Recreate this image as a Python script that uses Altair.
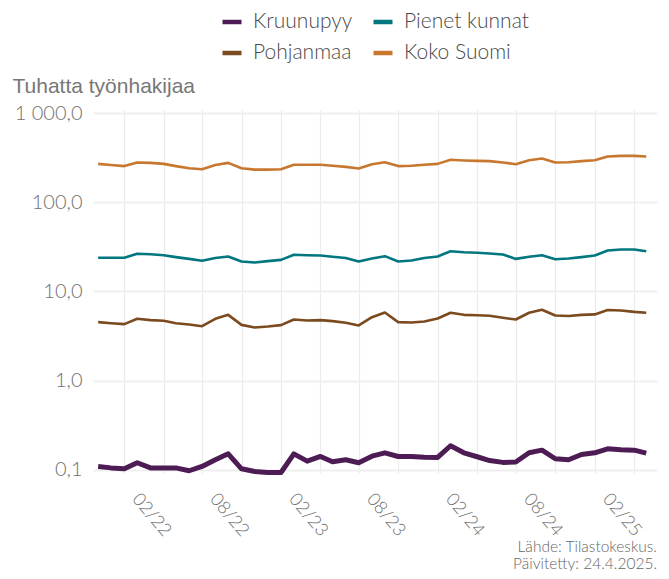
import altair as alt
import pandas as pd

MONTHS = [
    "2021-09-01", "2021-10-01", "2021-11-01", "2021-12-01",
    "2022-01-01", "2022-02-01", "2022-03-01", "2022-04-01", "2022-05-01", "2022-06-01",
    "2022-07-01", "2022-08-01", "2022-09-01", "2022-10-01", "2022-11-01", "2022-12-01",
    "2023-01-01", "2023-02-01", "2023-03-01", "2023-04-01", "2023-05-01", "2023-06-01",
    "2023-07-01", "2023-08-01", "2023-09-01", "2023-10-01", "2023-11-01", "2023-12-01",
    "2024-01-01", "2024-02-01", "2024-03-01", "2024-04-01", "2024-05-01", "2024-06-01",
    "2024-07-01", "2024-08-01", "2024-09-01", "2024-10-01", "2024-11-01", "2024-12-01",
    "2025-01-01", "2025-02-01", "2025-03-01",
]

SERIES = ["Kruunupyy", "Pienet kunnat", "Pohjanmaa", "Koko Suomi"]
COLORS = ["#4e1c55", "#00767f", "#7b4a1f", "#c8772f"]

KRUUNUPYY = [0.109, 0.105, 0.1025, 0.120, 0.105, 0.105, 0.105, 0.0975, 0.109, 0.1295,
             0.151, 0.1025, 0.0957, 0.0933, 0.0933, 0.151, 0.125, 0.141, 0.123, 0.1295,
             0.120, 0.142, 0.155, 0.141, 0.141, 0.138, 0.1375, 0.186, 0.155, 0.140,
             0.127, 0.121, 0.122, 0.155, 0.166, 0.133, 0.1295, 0.1486, 0.155, 0.172,
             0.1675, 0.166, 0.1535]
PIENET_KUNNAT = [23.9, 23.9, 23.9, 26.5, 26.2, 25.5, 24.3, 23.2, 22.1, 23.7,
                 24.7, 21.7, 21.1, 21.9, 22.6, 25.8, 25.5, 25.3, 24.5, 23.7,
                 21.7, 23.4, 24.9, 21.7, 22.3, 23.7, 24.7, 28.3, 27.6, 27.2,
                 26.7, 26.0, 23.2, 24.5, 25.5, 23.0, 23.4, 24.3, 25.3, 28.8,
                 29.6, 29.6, 28.3]
POHJANMAA = [4.53, 4.41, 4.30, 4.94, 4.77, 4.69, 4.41, 4.26, 4.08, 4.94,
             5.47, 4.22, 3.95, 4.05, 4.19, 4.85, 4.73, 4.77, 4.65, 4.46,
             4.16, 5.15, 5.81, 4.53, 4.49, 4.61, 4.98, 5.77, 5.47, 5.42,
             5.34, 5.07, 4.85, 5.77, 6.24, 5.38, 5.30, 5.47, 5.53, 6.19,
             6.12, 5.91, 5.77]
KOKO_SUOMI = [270, 262, 255, 280, 277, 270, 255, 241, 235, 262,
              277, 241, 233, 233, 235, 264, 264, 264, 257, 250,
              240, 268, 282, 255, 257, 264, 270, 300, 295, 292,
              290, 280, 268, 297, 310, 280, 282, 290, 297, 327,
              332, 332, 327]

X_GRID = [(2021, 11), (2022, 2), (2022, 5), (2022, 8), (2022, 11), (2023, 2), (2023, 5),
          (2023, 8), (2023, 11), (2024, 2), (2024, 5), (2024, 8), (2024, 11), (2025, 2)]
X_DOMAIN = [(2021, 8, 20), (2025, 3, 26)]
Y_TICKS = [0.1, 1, 10, 100, 1000]
Y_TICK_LABELS = ["0,1", "1,0", "10,0", "100,0", "1 000,0"]
Y_DOMAIN = [0.092, 1086]
Y_TITLE = "Tuhatta työnhakijaa"
CAPTION = "Lähde: Tilastokeskus.\nPäivitetty: 24.4.2025."

values = {"Kruunupyy": KRUUNUPYY, "Pienet kunnat": PIENET_KUNNAT,
          "Pohjanmaa": POHJANMAA, "Koko Suomi": KOKO_SUOMI}
rows = []
for s in SERIES:
    for d, v in zip(MONTHS, values[s]):
        rows.append({"date": d, "value": v, "series": s})
df = pd.DataFrame(rows)

# y label expression built from tick lists
expr = "'" + Y_TICK_LABELS[-1] + "'"
for t, lab in reversed(list(zip(Y_TICKS[:-1], Y_TICK_LABELS[:-1]))):
    expr = f"datum.value < {t * 3.1623} ? '{lab}' : ({expr})"

x_expr = ("(utcFormat(datum.value, '%m') == '02' || utcFormat(datum.value, '%m') == '08')"
          " ? utcFormat(datum.value, '%m/%y') : ''")

LIGHT = "Lato"

lines = alt.Chart(df).mark_line(strokeJoin="round").encode(
    x=alt.X("date:T",
            scale=alt.Scale(type="utc", nice=False,
                            domain=[alt.DateTime(year=y, month=m, date=d, utc=True) for y, m, d in X_DOMAIN]),
            axis=alt.Axis(values=[alt.DateTime(year=y, month=m, date=1, utc=True) for y, m in X_GRID],
                          labelExpr=x_expr, title=None, domain=False, ticks=False, tickSize=0,
                          labelAngle=50, labelAlign="left", labelBaseline="top",
                          labelOffset=-22, labelPadding=17, labelOverlap=False,
                          labelFlush=False, labelBound=False,
                          labelFont=LIGHT, labelFontSize=18, labelFontWeight=300,
                          labelColor="#707070", grid=True, gridColor="#ebebeb", gridWidth=1.2)),
    y=alt.Y("value:Q",
            scale=alt.Scale(type="log", domain=Y_DOMAIN, nice=False),
            axis=alt.Axis(values=Y_TICKS, labelExpr=expr, domain=False, ticks=False, tickSize=0,
                          labelPadding=11, labelFont=LIGHT, labelFontSize=20, labelFontWeight=300,
                          labelColor="#707070", grid=True, gridColor="#efefef", gridWidth=2,
                          title=Y_TITLE, titleAngle=0, titleX=-81, titleY=-18,
                          titleAlign="left", titleBaseline="alphabetic",
                          titleFont="Liberation Sans", titleFontSize=21, titleFontWeight="normal",
                          titleColor="#777777")),
    color=alt.Color("series:N",
                    scale=alt.Scale(domain=SERIES, range=COLORS),
                    legend=alt.Legend(orient="none", legendX=127, legendY=-100, columns=2,
                                      direction="horizontal",
                                      title=None, symbolType="stroke", symbolSize=361,
                                      symbolStrokeWidth=4.5, labelFont=LIGHT, labelFontSize=21,
                                      labelFontWeight=300, labelColor="#4a4a4a", labelOffset=9,
                                      columnPadding=11, rowPadding=9, padding=0, labelLimit=400)),
    strokeWidth=alt.condition(alt.datum.series == "Kruunupyy", alt.value(5), alt.value(2.6)),
)

caption = alt.Chart(pd.DataFrame({"caption": [CAPTION]})).mark_text(
    align="right", baseline="alphabetic", lineBreak="\n", font=LIGHT, fontSize=15.5,
    fontWeight=300, color="#666666", lineHeight=16.5
).encode(x=alt.value(564), y=alt.value(442), text="caption:N")

chart = alt.layer(lines, caption).properties(
    width=564, height=363,
    autosize=alt.AutoSizeParams(type="none"),
    padding={"left": 85, "top": 102, "right": 4, "bottom": 98},
).configure_view(stroke=None)

chart.save("out.html", embed_options={"renderer": "svg", "actions": False})
